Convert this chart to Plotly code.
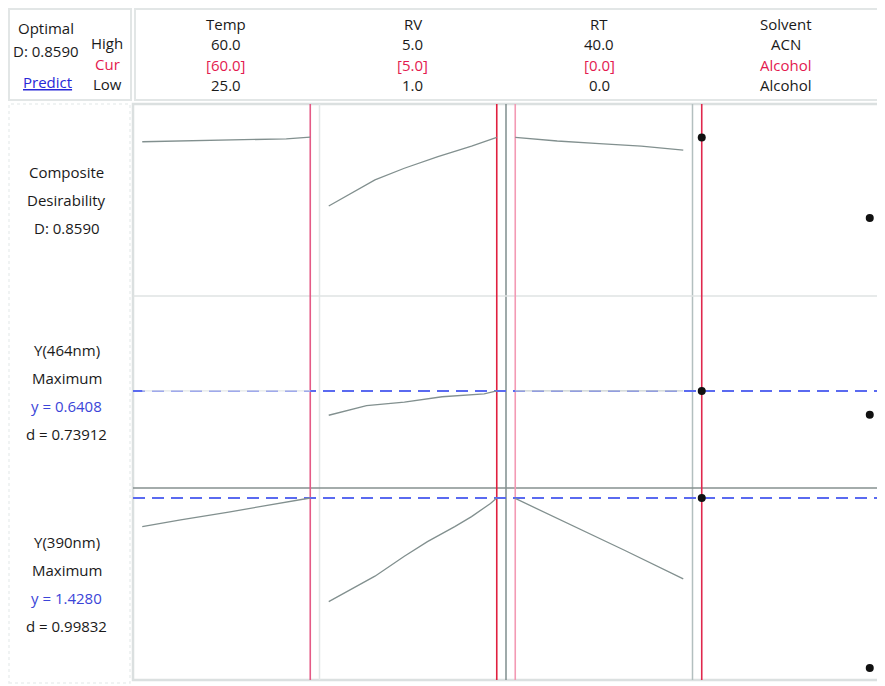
import plotly.graph_objects as go
from plotly.subplots import make_subplots

# factor header values
factors = ["Temp", "RV", "RT", "Solvent"]
high_labels = ["60.0", "5.0", "40.0", "ACN"]
cur_labels = ["[60.0]", "[5.0]", "[0.0]", "Alcohol"]
low_labels = ["25.0", "1.0", "0.0", "Alcohol"]
factor_low = [25, 1, 0]
factor_high = [60, 5, 40]
factor_cur = [60, 5, 0]
solvent_levels = ["Alcohol", "ACN"]
solvent_cur = "Alcohol"

# response labels (left column)
row_labels = [
    [("Composite", "k"), ("Desirability", "k"), ("D: 0.8590", "k")],
    [("Y(464nm)", "k"), ("Maximum", "k"), ("y = 0.6408", "b"), ("d = 0.73912", "k")],
    [("Y(390nm)", "k"), ("Maximum", "k"), ("y = 1.4280", "b"), ("d = 0.99832", "k")],
]
y464_opt = 0.6408
y390_opt = 1.4280

# composite desirability curves
temp_xD = [25, 35, 45, 55, 60]
temp_D = [0.846, 0.848, 0.851, 0.854, 0.859]
rv_xD = [1.0, 1.4, 1.8, 2.1, 2.8, 3.6, 4.4, 5.0]
rv_D = [0.669, 0.695, 0.721, 0.741, 0.773, 0.805, 0.834, 0.858]
rt_xD = [0, 5, 10, 20, 30, 40]
rt_D = [0.858, 0.853, 0.848, 0.841, 0.834, 0.823]
solv_D = [0.858, 0.636]

# Y(464nm) curves
temp_x464 = [25, 60]
temp_y464 = [0.6408, 0.6408]
rv_x464 = [1.0, 1.9, 2.8, 3.7, 4.7, 5.0]
rv_y464 = [0.600, 0.616, 0.622, 0.631, 0.636, 0.641]
rt_x464 = [0, 40]
rt_y464 = [0.6408, 0.6408]
solv_y464 = [0.6408, 0.601]

# Y(390nm) curves
temp_x390 = [25, 33, 43, 52, 60]
temp_y390 = [1.365, 1.380, 1.397, 1.414, 1.428]
rv_x390 = [1.0, 1.45, 2.1, 2.8, 3.35, 4.0, 4.4, 4.85, 5.0]
rv_y390 = [1.200, 1.223, 1.256, 1.300, 1.332, 1.365, 1.387, 1.416, 1.428]
rt_x390 = [0, 15, 26, 40]
rt_y390 = [1.427, 1.362, 1.313, 1.250]
solv_y390 = [1.428, 1.054]

row_ranges = [[0.421, 0.95], [0.478, 0.80], [1.0276, 1.45]]

FONT = "Open Sans"
TXT = "#1a1a1a"
RED = "#e31a4f"
BLUE = "#3b45d8"
CURVE = "#82908f"
FLAT = "#e3e7e7"

fig = make_subplots(rows=3, cols=4, horizontal_spacing=0, vertical_spacing=0)

curves = {
    (1, 1): (temp_xD, temp_D, CURVE), (1, 2): (rv_xD, rv_D, CURVE), (1, 3): (rt_xD, rt_D, CURVE),
    (2, 1): (temp_x464, temp_y464, FLAT), (2, 2): (rv_x464, rv_y464, CURVE),
    (2, 3): (rt_x464, rt_y464, "#c9d0d0"),
    (3, 1): (temp_x390, temp_y390, CURVE), (3, 2): (rv_x390, rv_y390, CURVE),
    (3, 3): (rt_x390, rt_y390, CURVE),
}
for (r, c), (xs, ys, col) in curves.items():
    fig.add_trace(go.Scatter(x=xs, y=ys, mode="lines",
                             line=dict(color=col, width=1.3),
                             hoverinfo="skip"), row=r, col=c)

for r, ys in enumerate([solv_D, solv_y464, solv_y390], start=1):
    fig.add_trace(go.Scatter(x=solvent_levels, y=ys, mode="markers",
                             marker=dict(color="#111111", size=8),
                             hoverinfo="skip"), row=r, col=4)

# axes
for r in range(1, 4):
    for c in range(1, 5):
        if c < 4:
            lo, hi = factor_low[c-1], factor_high[c-1]
            pad = 0.055 * (hi - lo)
            fig.update_xaxes(range=[lo - pad, hi + pad], row=r, col=c)
        else:
            fig.update_xaxes(type="category", categoryorder="array",
                             categoryarray=solvent_levels,
                             range=[-0.055, 1.055], row=r, col=c)
        fig.update_yaxes(range=row_ranges[r-1], row=r, col=c)
fig.update_xaxes(showgrid=False, zeroline=False, showticklabels=False, showline=False, ticks="")
fig.update_yaxes(showgrid=False, zeroline=False, showticklabels=False, showline=False, ticks="")


def ax(letter, i):
    return letter if i == 1 else f"{letter}{i}"


def px_x(px):
    return (px - 133) / 746


def px_y(py):
    return (680 - py) / 576


shapes = []
# frames
shapes.append(dict(type="rect", xref="paper", yref="paper", x0=0, x1=1, y0=0, y1=1,
                   line=dict(color="#dbe0e0", width=2.5), layer="below"))
shapes.append(dict(type="rect", xref="paper", yref="paper", x0=px_x(9), x1=px_x(131),
                   y0=px_y(100), y1=px_y(9), line=dict(color="#e2e6e6", width=2), layer="below"))
shapes.append(dict(type="rect", xref="paper", yref="paper", x0=px_x(135), x1=px_x(883),
                   y0=px_y(100), y1=px_y(9), line=dict(color="#e2e6e6", width=2), layer="below"))
shapes.append(dict(type="rect", xref="paper", yref="paper", x0=px_x(9), x1=px_x(130),
                   y0=px_y(683), y1=px_y(104), line=dict(color="#eceff0", width=1.5, dash="dot"),
                   layer="below"))

# column separators
for c, col in [(2, "#e2e7e7"), (3, "#7f8e8e"), (4, "#b3bfbf")]:
    shapes.append(dict(type="line", xref=f"x{c} domain", yref="paper", x0=0, x1=0, y0=0, y1=1,
                       line=dict(color=col, width=1.5), layer="below"))
# row separators
for a, col in [(5, "#dfe3e3"), (9, "#86908f")]:
    shapes.append(dict(type="line", xref="paper", yref=f"y{a} domain", x0=0, x1=1, y0=1, y1=1,
                       line=dict(color=col, width=1.3), layer="below"))

# current settings
cur_colors = ["#e45a86", "#e0203f", "#f39ab4", "#e0284d"]
cur_pos = factor_cur + [solvent_levels.index(solvent_cur)]
for c in range(1, 5):
    shapes.append(dict(type="line", xref=ax("x", c), yref="paper", x0=cur_pos[c-1], x1=cur_pos[c-1],
                       y0=0, y1=1, line=dict(color=cur_colors[c-1], width=1.6), layer="below"))

# optimal response levels
for a, val in [(5, y464_opt), (9, y390_opt)]:
    shapes.append(dict(type="line", xref="paper", yref=f"y{a}", x0=0, x1=1, y0=val, y1=val,
                       line=dict(color="#5a6af0", width=2, dash="12px,7px"), layer="below"))

annotations = []


def label(text, x, y, color=TXT, xref="paper", size=15):
    annotations.append(dict(text=text, x=x, y=y, xref=xref, yref="paper", showarrow=False,
                            xanchor="center", yanchor="middle",
                            font=dict(family=FONT, size=size, color=color)))


# header
for c in range(4):
    xr = ax("x", c + 1) + " domain"
    label(factors[c], 0.5, px_y(23.5), xref=xr)
    label(high_labels[c], 0.5, px_y(44.5), xref=xr)
    label(cur_labels[c], 0.5, px_y(64.5), color=RED, xref=xr)
    label(low_labels[c], 0.5, px_y(85), xref=xr)

label("Optimal", px_x(46), px_y(28))
label("D: 0.8590", px_x(46), px_y(51))
label("<u>Predict</u>", px_x(47), px_y(82), color="#2727d8")
label("High", px_x(107), px_y(43.5))
label("Cur", px_x(107), px_y(63.5), color=RED)
label("Low", px_x(107), px_y(83.5))

# left response labels
row_tops = [171.7, 350, 541.7]
for r, lines in enumerate(row_labels):
    for i, (txt, col) in enumerate(lines):
        label(txt, px_x(66.5), px_y(row_tops[r] + i * 28),
              color=BLUE if col == "b" else TXT)

# page body has an 8px margin, so the figure is 8px smaller and shifted
fig.update_layout(
    width=877, height=678,
    margin=dict(l=125, r=6, t=96, b=6),
    paper_bgcolor="white", plot_bgcolor="white",
    showlegend=False,
    shapes=shapes,
    annotations=annotations,
)

fig.write_html("out.html")
